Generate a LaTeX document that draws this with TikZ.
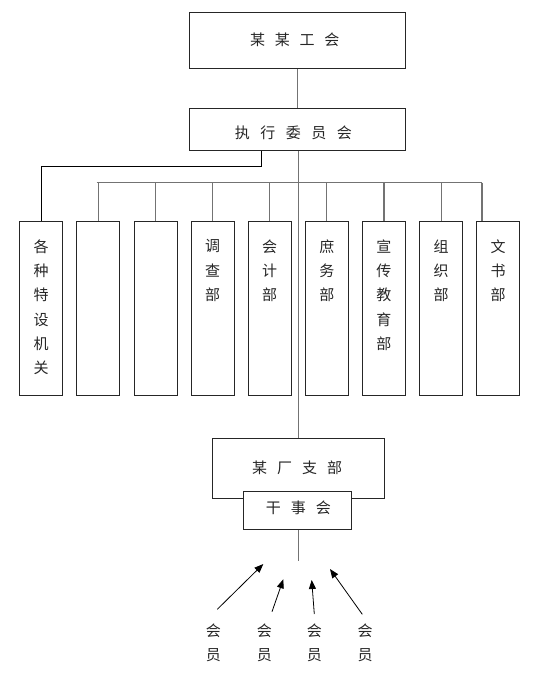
\documentclass[tikz,border=0pt]{standalone}
\usepackage{fontspec}
\newfontfamily\cjk{Noto Sans CJK SC}
\usetikzlibrary{arrows.meta,calc}
\newcommand{\zsp}[1]{\hspace{#1}}
\begin{document}
\begin{tikzpicture}[x=1pt,y=-1pt,
  font=\cjk\fontsize{15}{24.3}\selectfont,
  box/.style={draw=black!85, line width=0.9pt, inner sep=0pt, anchor=north west},
  conn/.style={draw=black!55, line width=1.1pt},
  lconn/.style={draw=black, line width=0.8pt},
  ch/.style={inner sep=0pt, text=black!85},
  arr/.style={draw=black, line width=0.8pt, -{Triangle[length=9pt,width=7pt]}}]
\useasboundingbox (0,0) rectangle (539,673);

% top boxes
\node[box, minimum width=216pt, minimum height=56.3pt] (union) at (189.3,12) {};
\node[ch] (uniontxt) at (294.7,39.3) {某\zsp{9.7pt}某\zsp{9.7pt}工\zsp{9.7pt}会};
\node[box, minimum width=216pt, minimum height=41.7pt] (exec) at (189.3,108.3) {};
\node[ch] (exectxt) at (293.3,132.7) {执\zsp{10.5pt}行\zsp{10.5pt}委\zsp{10.5pt}员\zsp{10.5pt}会};

% department boxes
\foreach \i in {1,...,9}{
  \node[box, minimum width=43pt, minimum height=174.5pt] (b\i) at ({19.3+57.12*(\i-1)},220.5) {};
}
\foreach \i/\chars in {1/{各,种,特,设,机,关},4/{调,查,部},5/{会,计,部},6/{庶,务,部},7/{宣,传,教,育,部},8/{组,织,部},9/{文,书,部}}{
  \foreach \c [count=\k] in \chars {
    \node[ch] (t\i-\k) at ($(b\i.north)+(0,{25.8+24.4*(\k-1)})$) {\c};
  }
}

% branch
\node[box, minimum width=171.7pt, minimum height=60pt] (branch) at (212.3,438.3) {};
\node[ch] (branchtxt) at (297.2,467.3) {某\zsp{10pt}厂\zsp{10pt}支\zsp{10pt}部};
\node[box, fill=white, minimum width=107.4pt, minimum height=38.3pt] (board) at (243.3,491) {};
\node[ch] (boardtxt) at (298.3,508.3) {干\zsp{10pt}事\zsp{10pt}会};

% connectors
\draw[conn] (union.south) -- (exec.north);
\draw[conn] (exec.south -| branch.north) -- (branch.north);
\coordinate (lk) at (261,166.7);
\draw[lconn] (exec.south -| lk) -- (lk) -| (b1.north);
\coordinate (busL) at (96.7,182.7);
\coordinate (busR) at (482,182.7);
\draw[conn] (busL) -- (busR);
\foreach \i in {2,...,8}{
  \draw[conn] (b\i.north |- busL) -- (b\i.north);
}
\draw[conn] (busR) -- (busR |- b9.north);
\coordinate (tail) at (298.3,560.7);
\draw[conn] (board.south -| tail) -- (tail);

% members
\foreach \i/\x in {1/213.3,2/264.3,3/314.3,4/365}{
  \node[ch, align=center] (m\i) at (\x,642.9) {会\\员};
}
\coordinate (s1) at (217.3,609.3); \coordinate (e1) at (263.3,564);
\coordinate (s2) at (272,611.7);   \coordinate (e2) at (283.3,579.3);
\coordinate (s3) at (314.3,614);   \coordinate (e3) at (311.7,580);
\coordinate (s4) at (362.3,614.3); \coordinate (e4) at (330,569);
\foreach \i in {1,...,4}{
  \draw[arr] (s\i) -- (e\i);
}
\end{tikzpicture}
\end{document}
